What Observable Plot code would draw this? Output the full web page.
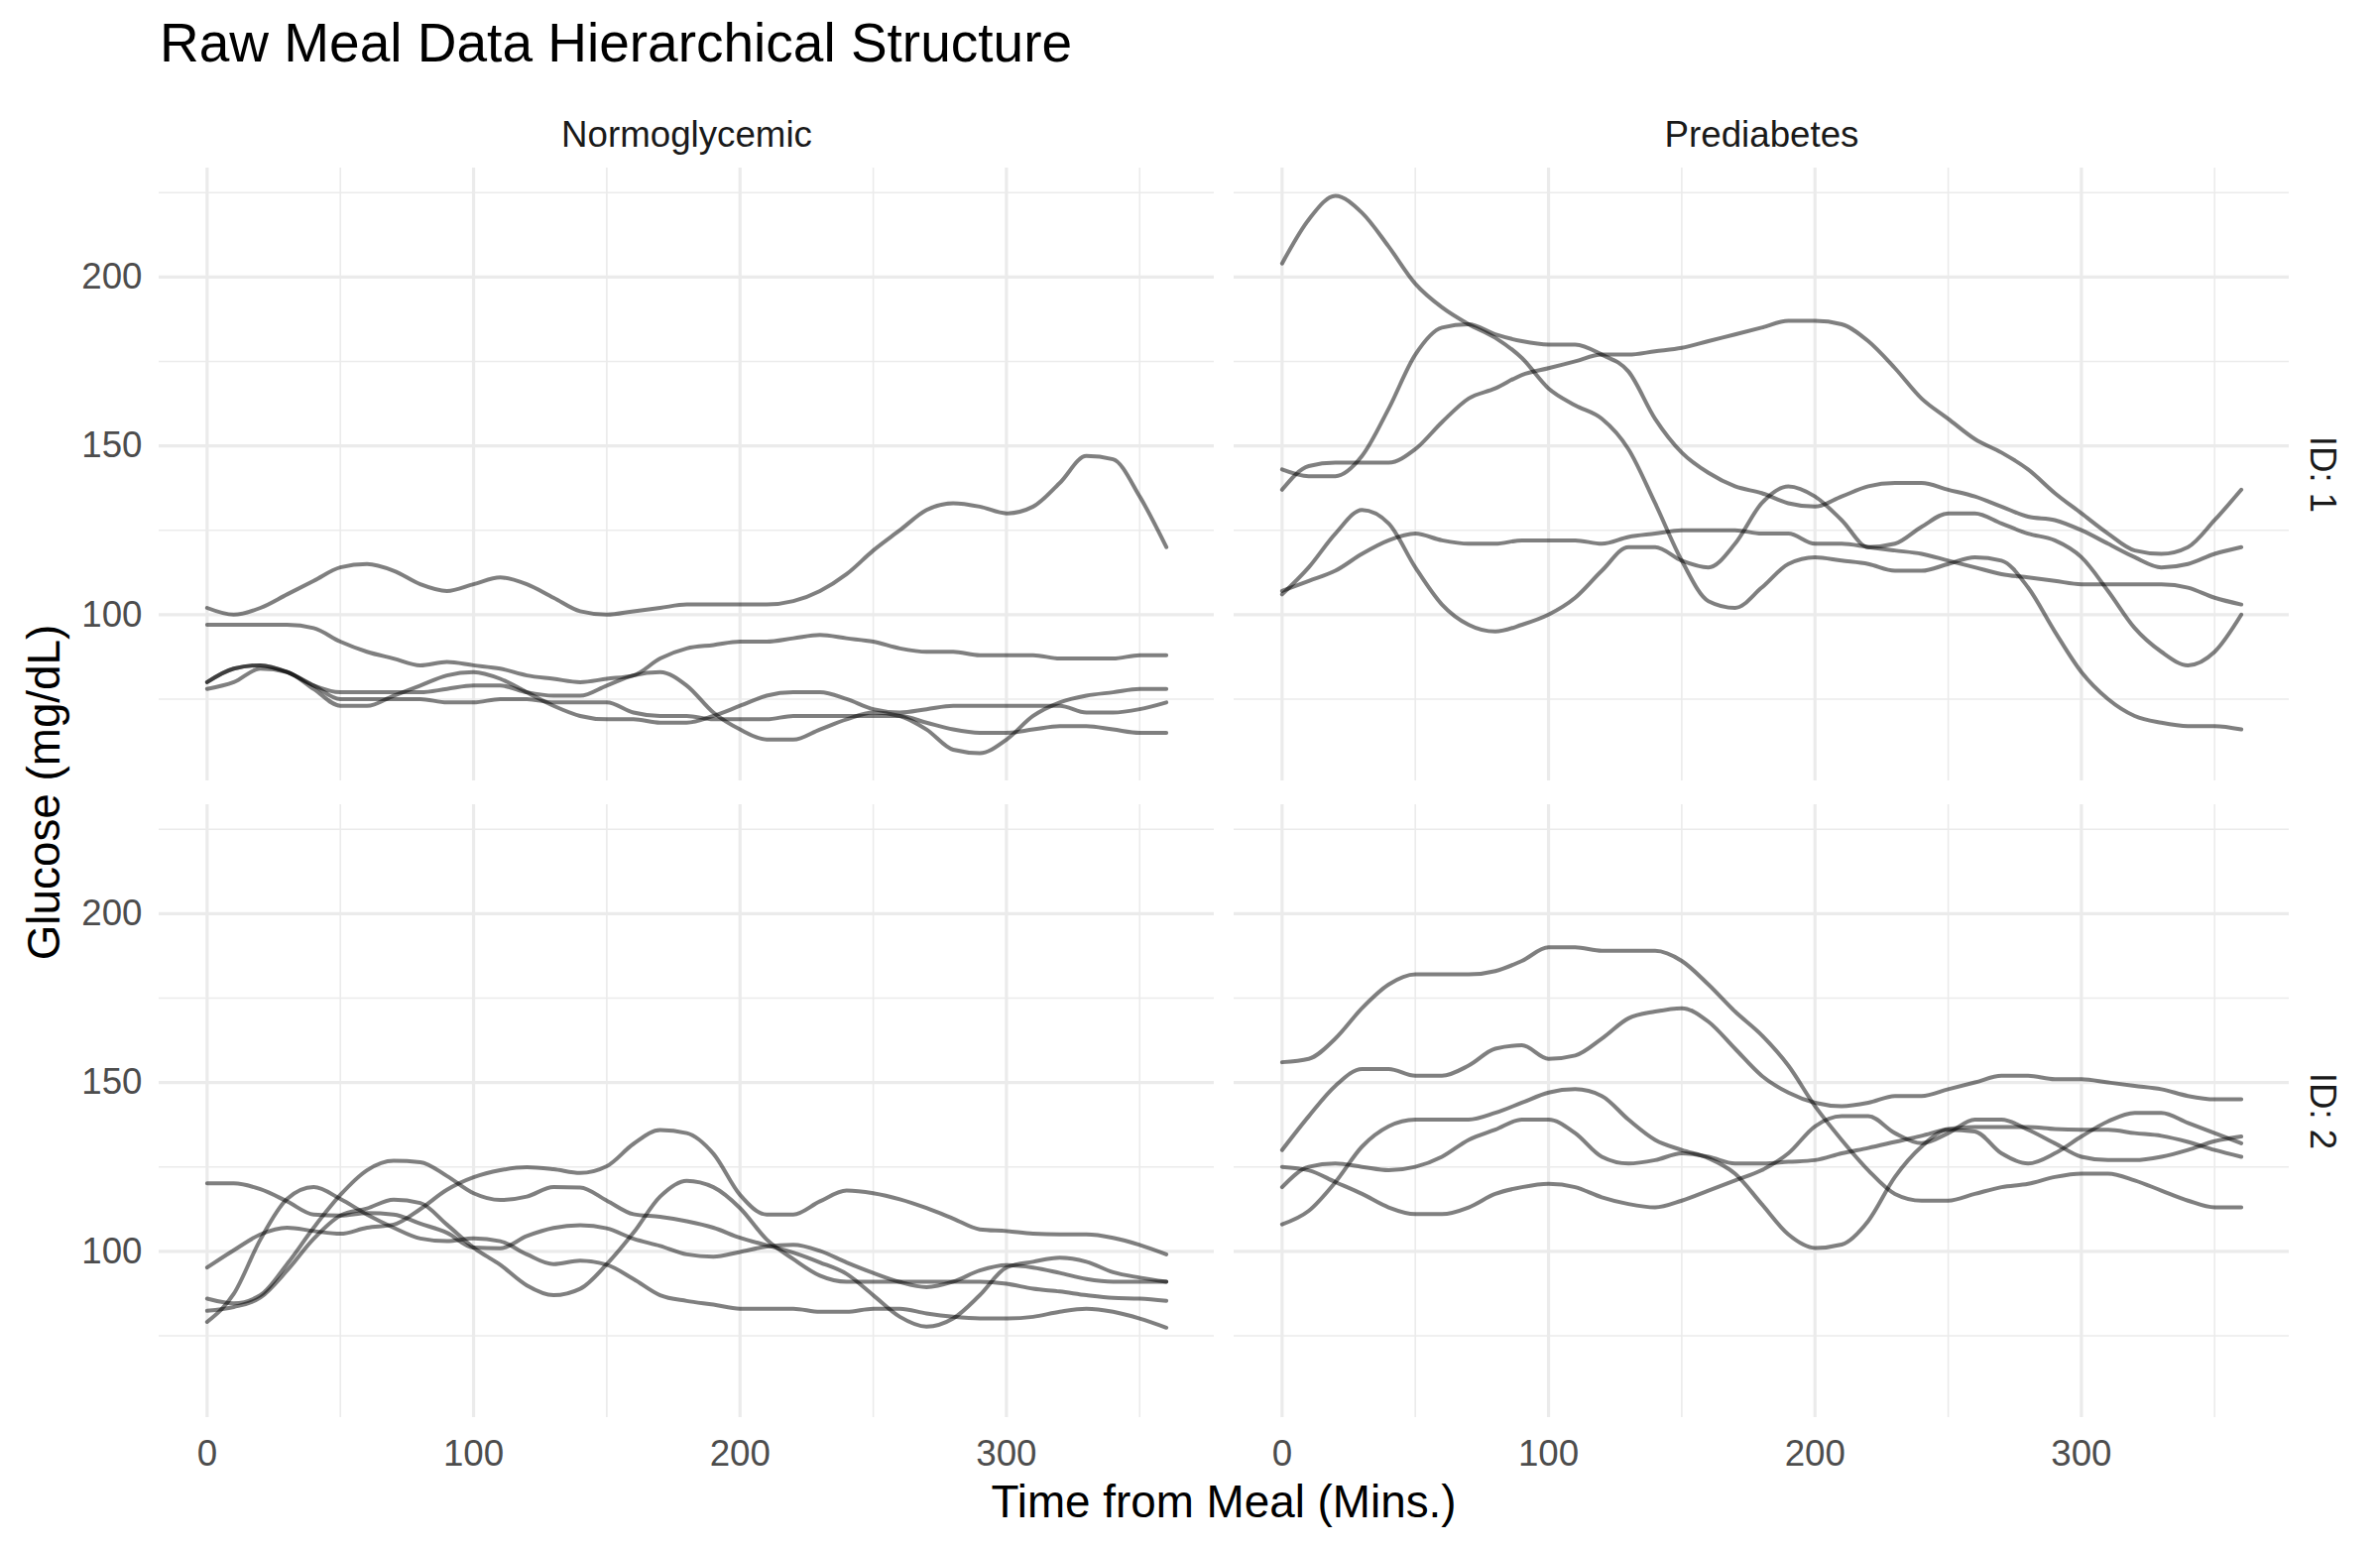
<!DOCTYPE html>
<html><head><meta charset="utf-8">
<script src="https://cdn.jsdelivr.net/npm/d3@7"></script>
<script src="https://cdn.jsdelivr.net/npm/@observablehq/plot@0.6"></script>
<style>
body{margin:0;background:#fff;width:2400px;height:1562px;overflow:hidden;font-family:"Liberation Sans",Arial,sans-serif}
#title{height:100px;position:relative}
#title span{position:absolute;left:161px;top:16px;font-size:55px;line-height:1;color:#000;white-space:nowrap}
#chart svg{display:block}
</style></head><body>
<div id="title"><span>Raw Meal Data Hierarchical Structure</span></div>
<div id="chart"></div>
<script>
const times = [0,10,20,30,40,50,60,70,80,90,100,110,120,130,140,150,160,170,180,190,200,210,220,230,240,250,260,270,280,290,300,310,320,330,340,350,360];
const groups = ["Normoglycemic","Prediabetes"];
const ids = ["1","2"];
const xMajor = [0,100,200,300];
const xMinor = [50,150,250,350];
const yMajor = [100,150,200];
const yMinor = [75,125,175,225];

// Normoglycemic, ID 1 (one array per meal)
const normoID1 = [
  [102,100,102,106,110,114,115,113,109,107,109,111,109,105,101,100,101,102,103,103,103,103,104,107,112,119,125,131,133,132,130,132,139,147,146,135,120],
  [97,97,97,97,96,92,89,87,85,86,85,84,82,81,80,81,82,87,90,91,92,92,93,94,93,92,90,89,89,88,88,88,87,87,87,88,88],
  [80,84,85,83,79,77,77,77,77,78,79,79,77,76,76,79,82,83,79,71,66,63,63,66,69,71,70,66,60,59,63,70,74,76,77,78,78],
  [78,80,84,83,78,73,73,76,79,82,83,81,77,73,70,69,69,68,68,70,73,76,77,77,75,72,71,72,73,73,73,73,73,71,71,72,74],
  [80,84,85,83,79,75,75,75,75,74,74,75,75,74,74,74,71,70,70,69,69,69,70,70,70,70,70,68,66,65,65,66,67,67,66,65,65]
];
// Prediabetes, ID 1
const prediID1 = [
  [204,217,224,219,209,198,191,186,182,176,167,162,158,149,133,116,104,102,108,115,117,116,115,113,113,115,117,116,108,95,83,75,70,68,67,67,66],
  [143,141,141,147,161,177,185,186,183,181,180,180,177,172,158,148,142,138,136,133,132,135,138,139,139,137,135,132,129,128,125,121,117,114,115,118,120],
  [137,144,145,145,145,149,157,164,167,171,173,175,177,177,178,179,181,183,185,187,187,186,181,173,164,158,152,148,143,136,130,124,119,118,120,128,137],
  [106,114,124,131,127,114,103,97,95,97,100,105,113,120,120,116,114,121,133,138,135,128,120,121,126,130,130,127,124,122,117,107,96,89,85,89,100],
  [107,110,113,118,122,124,122,121,121,122,122,122,121,123,124,125,125,125,124,124,121,121,120,119,118,116,114,112,111,110,109,109,109,109,108,105,103]
];
// Normoglycemic, ID 2
const normoID2 = [
  [95.2,100.3,105,107,106,105.2,107,107.9,112.5,118.2,121.9,124,124.9,124.3,123.2,125.2,131.8,135.9,135,128.9,116.7,110.9,110.9,114.8,118,117.2,115.4,112.8,109.7,106.5,106,105.2,105,105,104,101.9,99.1],
  [120.1,120.1,118.4,114.8,110.9,110.6,111.3,110.9,108.2,105.5,101.1,100.9,104.5,106.9,107.7,106.8,103.7,101.6,99.1,98.4,99.8,101.4,101.9,100.1,96.7,93.6,90.9,89.4,91,94.3,95.9,95.2,93.6,91.8,91,91,91],
  [86,84.6,87,96.2,107,116.7,124,126.8,126.4,122.3,117.2,115.2,116.2,119,118.9,115,111,110.2,108.9,107,104,101.8,99.6,96.7,93.3,87,80.6,77.7,80.1,87,95.2,96.9,98.1,96.9,93.8,92.2,91],
  [82.4,83.5,86.3,94.3,103.7,110.6,112.7,115.3,114.3,107.9,101.1,96,89.9,87,88.9,96.2,105.5,116.2,120.9,119,112.8,103.5,97.7,92.8,91,91,91,91,91,91,90.4,88.9,88.1,87,86.2,86,85.3],
  [79.1,87.4,103.5,115.5,119,115.5,110.9,107,103.8,103,103.8,103,99.1,96.2,97.2,96,91.8,87,85.3,84.2,83,83,83,82.1,82.1,83,83,81.6,80.6,80.1,80.1,80.6,82.1,83,82.1,80.1,77.4]
];
// Prediabetes, ID 2
const prediID2 = [
  [156,157,163,172,179,182,182,182,183,186,190,190,189,189,189,186,179,171,164,155,143,133,124,117,115,115,117,119,120,122,123,123,121,118,115,113,113],
  [130,140,149,154,154,152,152,155,160,161,157,158,163,169,171,172,168,160,152,147,144,143,144,146,146,148,150,152,152,151,151,150,149,148,146,145,145],
  [119,125,126,125,124,125,128,133,136,139,139,135,128,126,127,129,128,126,126,126.5,127,129,130.6,132.4,134.2,136.2,136.8,136.8,136.8,136.2,136,136,135,134.2,132.4,130,128],
  [125,124,120.5,117,113,111,111,113,117,119,120,119,116,114,113,115,118,121,124,129,137,140,140,135,132,135,139,139,136,132,128,127,127,128,130,132.6,134],
  [108,112,120.5,131,137,139,139,139,141,144,147,148,146,139,133,130,127.6,123,114,105,101,102,109,122,131,136,135.5,129,126,129,134,138.5,141,141,138,135,132]
];

const panels = [
  {group: groups[0], id: ids[0], series: normoID1},
  {group: groups[1], id: ids[0], series: prediID1},
  {group: groups[0], id: ids[1], series: normoID2},
  {group: groups[1], id: ids[1], series: prediID2}
];
const rows = [];
for (const p of panels) {
  p.series.forEach((s, k) => {
    s.forEach((v, i) => rows.push({group: p.group, id: p.id, meal: p.group + p.id + k, t: times[i], v}));
  });
}
const yExt = d3.extent(rows, d => d.v);
const yPad = (yExt[1] - yExt[0]) * 0.05;
const xExt = d3.extent(times);
const xPad = (xExt[1] - xExt[0]) * 0.05;

const stripTop = groups.map(g => ({group: g, id: ids[0]}));
const stripRight = ids.map(id => ({group: groups[1], id}));

const grid = "#EBEBEB";
const plot = Plot.plot({
  width: 2400,
  height: 1462,
  marginLeft: 159,
  marginRight: 91,
  marginTop: 68,
  marginBottom: 132,
  style: {fontFamily: "'Liberation Sans', Arial, sans-serif", background: "white", overflow: "visible"},
  fx: {domain: groups, paddingInner: 0.0184, paddingOuter: 0, axis: null},
  fy: {domain: ids, paddingInner: 0.0367, paddingOuter: 0, axis: null},
  x: {domain: [xExt[0] - xPad, xExt[1] + xPad]},
  y: {domain: [yExt[0] - yPad, yExt[1] + yPad]},
  marks: [
    Plot.gridX(xMinor, {stroke: grid, strokeOpacity: 1, strokeWidth: 1.6}),
    Plot.gridY(yMinor, {stroke: grid, strokeOpacity: 1, strokeWidth: 1.6}),
    Plot.gridX(xMajor, {stroke: grid, strokeOpacity: 1, strokeWidth: 3.2}),
    Plot.gridY(yMajor, {stroke: grid, strokeOpacity: 1, strokeWidth: 3.2}),
    Plot.axisX(xMajor, {tickSize: 0, tickPadding: 22, fontSize: 36.7, fill: "#4D4D4D", label: null}),
    Plot.axisY(yMajor, {tickSize: 0, tickPadding: 17, fontSize: 36.7, fill: "#4D4D4D", label: null}),
    Plot.line(rows, {x: "t", y: "v", z: "meal", fx: "group", fy: "id", stroke: "#000", strokeOpacity: 0.5, strokeWidth: 4, curve: "monotone-x"}),
    Plot.text(stripTop, {fx: "group", fy: "id", text: "group", frameAnchor: "top", dy: -33, fontSize: 36.7, fill: "#1A1A1A", lineAnchor: "middle"}),
    Plot.text(stripRight, {fx: "group", fy: "id", text: d => "ID: " + d.id, frameAnchor: "right", dx: 33, rotate: 90, fontSize: 36.7, fill: "#1A1A1A", textAnchor: "middle", lineAnchor: "middle"})
  ]
});
document.getElementById("chart").appendChild(plot);
const svg = d3.select(plot);
svg.append("text").attr("x", 1234).attr("y", 1430).attr("text-anchor", "middle")
  .attr("font-size", 45.8).attr("fill", "#000").text("Time from Meal (Mins.)");
svg.append("text").attr("transform", "translate(60,699) rotate(-90)").attr("text-anchor", "middle")
  .attr("font-size", 45.8).attr("fill", "#000").text("Glucose (mg/dL)");
</script></body></html>
